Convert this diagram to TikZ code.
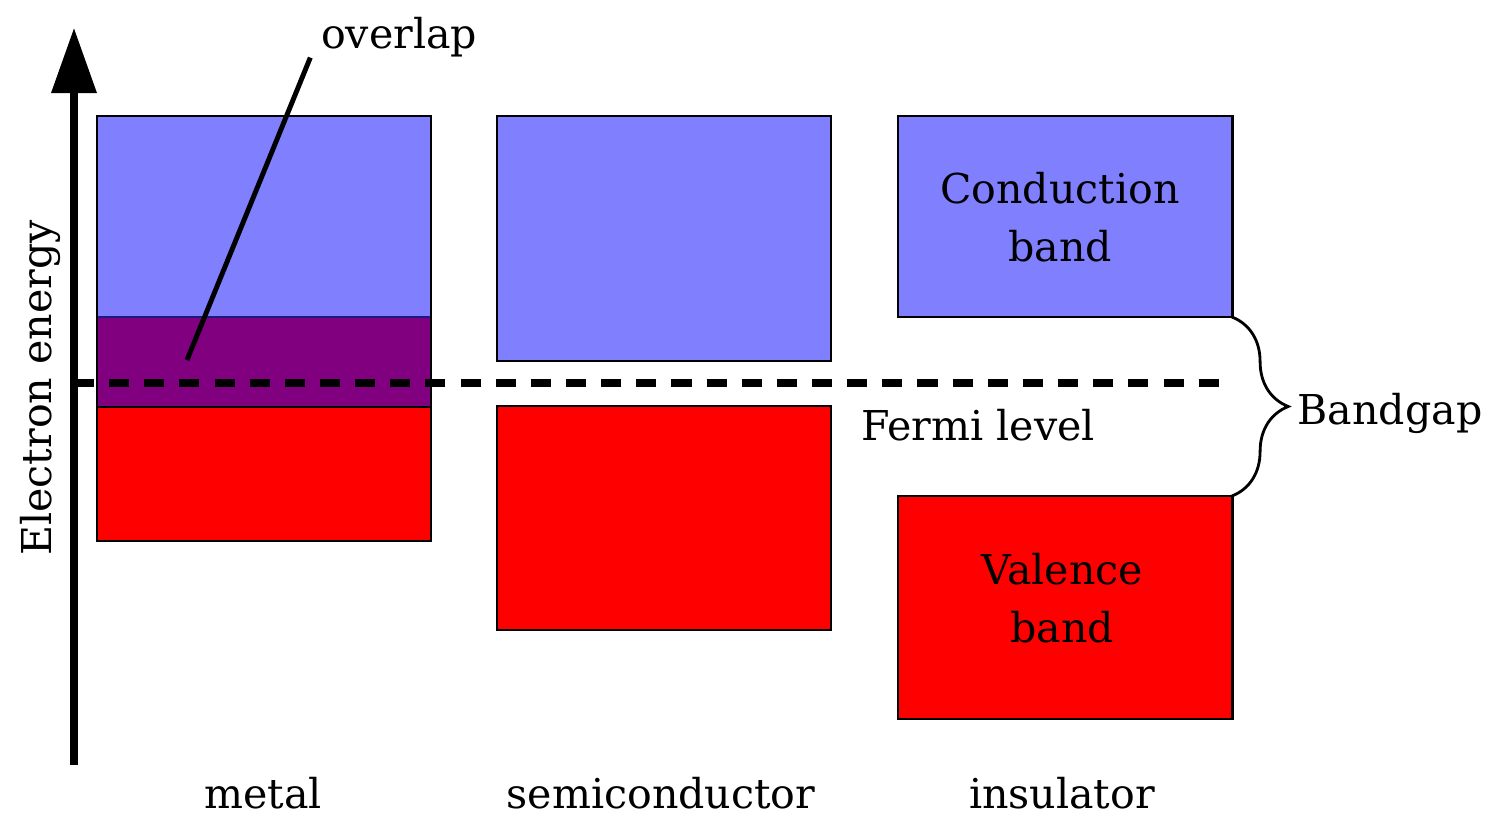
\documentclass[tikz,border=0pt]{standalone}
\usepackage{fontspec}
\setmainfont{DejaVu Serif}
\usetikzlibrary{arrows.meta,decorations.pathreplacing}

\definecolor{condblue}{HTML}{8080FF}
\definecolor{valred}{HTML}{FF0000}
\definecolor{overlappurple}{HTML}{800080}
\definecolor{edgeblue}{HTML}{1A1A80}

\begin{document}
\begin{tikzpicture}[x=0.1mm, y=-0.1mm]
\useasboundingbox (0,0) rectangle (1490,816);

\coordinate (M1_1) at (97,116);
\coordinate (M1_2) at (431,317);
\coordinate (M2_1) at (97,317);
\coordinate (M2_2) at (431,407);
\coordinate (M3_1) at (97,407);
\coordinate (M3_2) at (431,541);
\coordinate (S1_1) at (497,116);
\coordinate (S1_2) at (831,361);
\coordinate (S2_1) at (497,406);
\coordinate (S2_2) at (831,630);
\coordinate (I1_1) at (898,116);
\coordinate (I1_2) at (1232,317);
\coordinate (I2_1) at (898,496);
\coordinate (I2_2) at (1232,719);


\tikzset{BandStyle/.style = {draw=black, line width=0.85pt} }

\fill[condblue] (M1_1) rectangle (M1_2);
\fill[overlappurple] (M2_1) rectangle (M2_2);
\fill[valred] (M3_1) rectangle (M3_2);
\draw[edgeblue, line width=0.85pt] (M2_1) -- (M1_2);
\draw[black, line width=0.85pt] (M3_1) -- (M2_2);
\draw[BandStyle] (M1_1) rectangle (M3_2);

\draw[BandStyle, fill=condblue] (S1_1) rectangle (S1_2);
\draw[BandStyle, fill=valred] (S2_1) rectangle (S2_2);
\draw[BandStyle, fill=condblue] (I1_1) rectangle (I1_2);
\draw[BandStyle, fill=valred] (I2_1) rectangle (I2_2);


\tikzset{TextStyle/.style = {
 font = \fontsize{11.7pt}{16.5pt}\selectfont,
 inner sep = 0pt,
 align = center} }

\coordinate (A0) at (74,765);
\coordinate (A1) at (74,28);
\draw[line width=2pt, -{Triangle[length=18.5pt, width=12.5pt]}] (A0) -- (A1);

\coordinate (F0) at (74,383);
\coordinate (F1) at (1232,383);
\draw[line width=2pt, dash pattern=on 5.7pt off 4.3pt] (F0) -- (F1);

\node[TextStyle] (overlap) at (399,37) {overlap};
\coordinate (ovtip) at (187,360);
\draw[line width=1.4pt] ([xshift=-1mm]overlap.south west) -- (ovtip);

\node[TextStyle, rotate=90] (energy) at (40,388) {Electron energy};
\node[TextStyle] (fermi) at (978,425) {Fermi level};

\draw[line width=0.8pt, decorate, decoration={brace, amplitude=16pt}] (I1_2) -- (I2_2 |- I2_1);
\node[TextStyle] (gap) at (1390,413) {Bandgap};

\node[TextStyle] (cond) at (1060,217) {Conduction\\band};
\node[TextStyle] (val) at (1062,598) {Valence\\band};

\node[TextStyle] (metal) at (263,793) {metal};
\node[TextStyle] (semi) at (661,793) {semiconductor};
\node[TextStyle] (ins) at (1062,793) {insulator};

\end{tikzpicture}
\end{document}
